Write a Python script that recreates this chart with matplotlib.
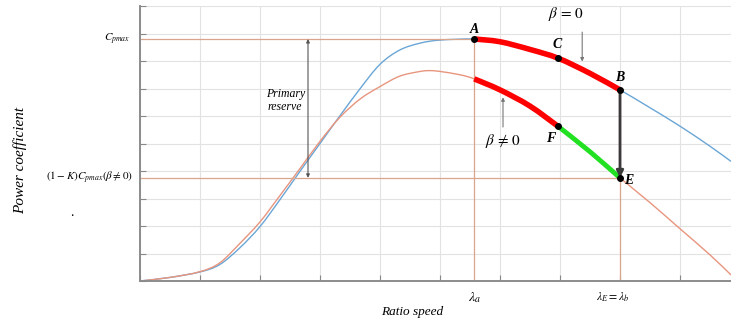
import numpy as np
import matplotlib
matplotlib.use('Agg')
import matplotlib.pyplot as plt
from matplotlib.path import Path
from matplotlib.patches import PathPatch
from matplotlib.transforms import blended_transform_factory

plt.rcParams['font.family'] = 'Liberation Serif'
plt.rcParams['mathtext.fontset'] = 'stix'

# beta = 0 curve (blue)
x_b0 = [0, 0.5, 1.0, 1.33, 1.67, 2.0, 2.33, 2.67, 3.0, 3.33, 3.67, 4.0, 4.33, 4.67, 5.0, 5.57,
	6.0, 6.5, 6.97, 7.5, 8.0, 8.5, 9.0, 9.5, 9.85]
y_b0 = [0, 0.13, 0.33, 0.6, 1.22, 1.98, 2.95, 4.0, 5.0, 6.0, 7.0, 7.88, 8.4, 8.65, 8.76, 8.8,
	8.7, 8.42, 8.1, 7.55, 6.95, 6.3, 5.63, 4.9, 4.35]
# beta != 0 curve (orange)
x_bn = [0, 0.5, 1.0, 1.33, 1.67, 2.0, 2.33, 2.67, 3.0, 3.33, 3.67, 4.0, 4.33, 4.67, 4.83, 5.0, 5.33, 5.57,
	6.0, 6.5, 6.97, 7.5, 8.0, 8.5, 9.0, 9.5, 9.85]
y_bn = [0, 0.13, 0.34, 0.66, 1.38, 2.15, 3.1, 4.1, 5.08, 5.95, 6.62, 7.07, 7.45, 7.62, 7.65, 7.62, 7.5, 7.35,
	6.95, 6.36, 5.62, 4.7, 3.75, 2.85, 1.9, 0.95, 0.22]

lam_a, lam_e = 5.57, 8.0
cp_max, cp_low = 8.8, 3.75
x_c = 6.97


def smooth_path(x, y):
	# bezier path through the points (catmull-rom style handles)
	p = np.column_stack([x, y]).astype(float)
	verts = [p[0]]
	codes = [Path.MOVETO]
	n = len(p)
	for i in range(n - 1):
		p0 = p[i - 1] if i > 0 else p[i]
		p3 = p[i + 2] if i + 2 < n else p[i + 1]
		c1 = p[i] + (p[i + 1] - p0) / 6.0
		c2 = p[i + 1] - (p3 - p[i]) / 6.0
		verts += [c1, c2, p[i + 1]]
		codes += [Path.CURVE4] * 3
	return Path(verts, codes)


def curve(ax, x, y, **kw):
	ax.add_patch(PathPatch(smooth_path(x, y), fill=False, **kw))


fig = plt.figure(figsize=(7.31, 3.26), dpi=100)
ax = fig.add_axes([140/731, 45/326, 591/731, 275/326])

blue = '#6aa6d6'
orange = '#e8957e'
ref = '#d9a58c'

ax.set_xlim(0, 9.85)
ax.set_ylim(0, 10)
ax.set_xticks(np.arange(0, 10, 1))
ax.set_yticks(np.arange(0, 11, 1))
ax.set_xticklabels([])
ax.set_yticklabels([])
ax.tick_params(direction='in', length=4, color='#888888')
ax.grid(True, color='#e2e2e2', lw=0.8)
ax.set_axisbelow(True)
for s in ['top', 'right']:
	ax.spines[s].set_visible(False)
for s in ['left', 'bottom']:
	ax.spines[s].set_color('#8c8c8c')
	ax.spines[s].set_linewidth(1.4)

# reference lines
ax.plot([0, lam_a], [cp_max, cp_max], color=ref, lw=0.9)
ax.plot([0, lam_e], [cp_low, cp_low], color=ref, lw=0.9)
ax.plot([lam_a, lam_a], [0, cp_max], color=ref, lw=0.9)
ax.plot([lam_e, lam_e], [0, 6.95], color=ref, lw=0.9)

curve(ax, x_b0, y_b0, edgecolor=blue, lw=1.0)
curve(ax, x_bn, y_bn, edgecolor=orange, lw=1.0)

xb = np.array(x_b0); yb = np.array(y_b0)
xn = np.array(x_bn); yn = np.array(y_bn)
m = (xb >= lam_a) & (xb <= lam_e)
curve(ax, xb[m], yb[m], edgecolor='#ff0000', lw=4, capstyle='butt', zorder=3)
m = (xn >= lam_a) & (xn <= x_c)
curve(ax, xn[m], yn[m], edgecolor='#ff0000', lw=4, capstyle='butt', zorder=3)
m = (xn >= x_c) & (xn <= lam_e)
curve(ax, xn[m], yn[m], edgecolor='#22e022', lw=3.5, capstyle='butt', zorder=3)

# B -> E arrow
ax.annotate('', xy=(lam_e, cp_low), xytext=(lam_e, 6.95),
	arrowprops=dict(arrowstyle='-|>', color='#3a3a3a', lw=2, mutation_scale=10, shrinkA=0, shrinkB=0))

pts_x = [lam_a, x_c, lam_e, x_c, lam_e]
pts_y = [cp_max, 8.1, 6.95, 5.62, cp_low]
ax.plot(pts_x, pts_y, 'o', color='black', ms=4, zorder=5)

lab = dict(fontsize=10, fontstyle='italic', fontweight='bold', ha='center', va='center')
ax.text(lam_a, 9.15, 'A', **lab)
ax.text(6.95, 8.6, 'C', **lab)
ax.text(8.0, 7.4, 'B', **lab)
ax.text(8.15, 3.65, 'E', **lab)
ax.text(6.85, 5.2, 'F', **lab)

# beta annotations
ax.text(7.1, 9.7, r'$\beta\,=\,0$', fontsize=11, ha='center', va='center')
ax.annotate('', xy=(7.37, 7.98), xytext=(7.37, 9.05),
	arrowprops=dict(arrowstyle='-|>', color='#777777', lw=0.8, mutation_scale=5, shrinkA=0, shrinkB=0))
ax.text(6.05, 5.1, r'$\beta\,\neq\,0$', fontsize=11, ha='center', va='center')
ax.annotate('', xy=(6.05, 6.68), xytext=(6.05, 5.6),
	arrowprops=dict(arrowstyle='-|>', color='#777777', lw=0.8, mutation_scale=5, shrinkA=0, shrinkB=0))

# primary reserve
ax.annotate('', xy=(2.8, cp_max), xytext=(2.8, cp_low),
	arrowprops=dict(arrowstyle='<|-|>', color='#555555', lw=0.8, mutation_scale=5, shrinkA=0, shrinkB=0))
ax.text(2.42, 6.55, 'Primary\nreserve', fontsize=8.5, fontstyle='italic', ha='center', va='center', linespacing=1.1)

# axis labels
tr = blended_transform_factory(ax.transAxes, ax.transData)
ax.text(-0.017, cp_max, r'$C_{pmax}$', transform=tr, fontsize=8, ha='right', va='center')
ax.text(-0.012, cp_low, r'$(1-K)C_{pmax}(\beta\neq0)$', transform=tr, fontsize=8, ha='right', va='center')
tr2 = blended_transform_factory(ax.transData, ax.transAxes)
ax.text(lam_a, -0.06, r'$\lambda_a$', transform=tr2, fontsize=10, ha='center', va='center')
ax.text(7.88, -0.06, r'$\lambda_E=\lambda_b$', transform=tr2, fontsize=8.5, ha='center', va='center')

fig.text(412/731, 1 - 312/326, 'Ratio speed', fontsize=9.5, fontstyle='italic', ha='center', va='center')
fig.text(20/731, 1 - 160/326, 'Power coefficient', fontsize=11, fontstyle='italic', rotation=90, ha='center', va='center')
fig.text(72/731, 1 - 213/326, '.', fontsize=10, ha='center', va='center')

fig.savefig('out.png', dpi=100)
